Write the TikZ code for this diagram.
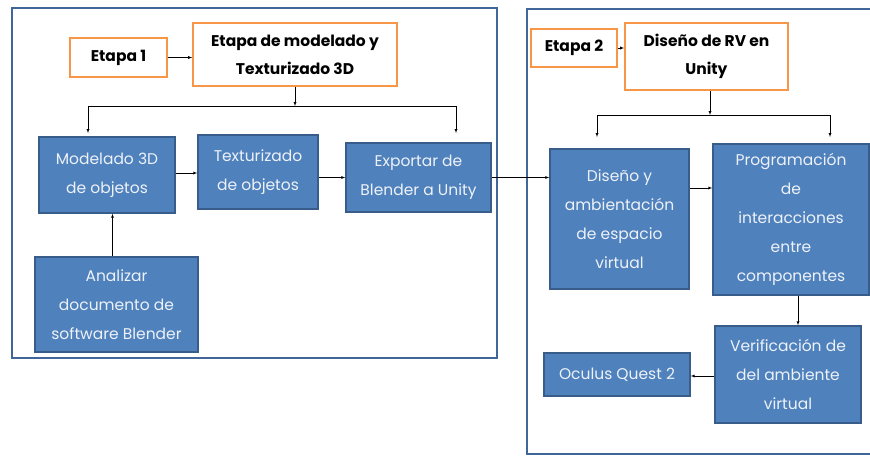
\documentclass[tikz,border=0pt]{standalone}
\usepackage{fontspec}
\setmainfont{Poppins}
\definecolor{panelblue}{HTML}{41669A}
\definecolor{boxblue}{HTML}{4F81BD}
\definecolor{boxedge}{HTML}{385D8A}
\definecolor{etapaorange}{HTML}{F79646}
\definecolor{boxtext}{HTML}{EEF2F8}
\tikzset{
  etapa/.style={draw=etapaorange, line width=1.6pt, fill=white, rectangle, align=center, inner sep=0pt,
    font=\fontsize{15.5}{28}\selectfont\bfseries},
  paso/.style={draw=boxedge, line width=1.4pt, fill=boxblue, rectangle, align=center, inner sep=0pt,
    text=boxtext, font=\fontsize{15.5}{29}\selectfont},
  panel/.style={draw=panelblue, line width=1.8pt}
}
\begin{document}
\begin{tikzpicture}[x=1pt, y=-1pt, >=latex, thin]
	\useasboundingbox (0,0) rectangle (870,460);
	% Panels
	\draw[panel] (12,8) rectangle (497,358);
	\draw[panel] (872,9) -- (527,9) -- (527,454) -- (872,454);
	% Etapa 1
	\node[etapa, minimum width=97pt, minimum height=39pt] (et1) at (118.5,57.5) {Etapa 1};
	\node[etapa, minimum width=204pt, minimum height=63pt] (etmod) at (295,54.5) {Etapa de modelado y\\Texturizado 3D};
	\node[paso, minimum width=136pt, minimum height=76pt] (mod) at (107,175) {Modelado 3D\\de objetos};
	\node[paso, minimum width=120pt, minimum height=74pt] (tex) at (258,172) {Texturizado\\de objetos};
	\node[paso, minimum width=145pt, minimum height=69pt] (exp) at (418.5,177.5) {Exportar de\\Blender a Unity};
	\node[paso, minimum width=163pt, minimum height=95pt] (ana) at (116.5,304.5) {Analizar\\documento de\\software Blender};
	% Etapa 2
	\node[etapa, minimum width=86pt, minimum height=38pt] (et2) at (574,48) {Etapa 2};
	\node[etapa, minimum width=163pt, minimum height=67pt] (dis) at (706.5,56.5) {Diseño de RV en\\Unity};
	\node[paso, minimum width=139pt, minimum height=140pt] (dya) at (619.5,219) {Diseño y\\ambientación\\de espacio\\virtual};
	\node[paso, minimum width=156pt, minimum height=151pt] (prog) at (791,219.5) {Programación\\de\\interacciones\\entre\\componentes};
	\node[paso, minimum width=146pt, minimum height=97pt] (ver) at (788,374.5) {Verificación de\\del ambiente\\virtual};
	\node[paso, minimum width=146pt, minimum height=43pt] (ocu) at (617,374.5) {Oculus Quest 2};
	% Branch points
	\coordinate (b1) at (etmod.south |- 0,106);
	\coordinate (l1) at (88,133);
	\coordinate (r1) at (456,133);
	\coordinate (b2) at (710,115);
	\coordinate (l2) at (597,137);
	\coordinate (r2) at (830,137);
	% Arrows stage 1
	\draw[->] (et1.east) -- (et1.east -| etmod.west);
	\draw[->] (etmod.south) -- (b1);
	\draw[->] (b1) -| (l1);
	\draw[->] (b1) -| (r1);
	\draw[->] ([yshift=2pt]mod.east) -- ([yshift=2pt]mod.east -| tex.west);
	\draw[->] (tex.east |- exp.west) -- (exp.west);
	\draw[->] ([xshift=-4pt]ana.north) -- ([xshift=-4pt]ana.north |- mod.south);
	\draw[->] (exp.east) -- (exp.east -| dya.west);
	% Arrows stage 2
	\draw[->] (et2.east) -- (et2.east -| dis.west);
	\draw[->] (b2 |- dis.south) -- (b2);
	\draw[->] (b2) -| (l2);
	\draw[->] (b2) -| (r2);
	\draw[->] ([yshift=31pt]dya.east) -- ([yshift=31pt]dya.east -| prog.west);
	\draw[->] ([xshift=7pt]prog.south) -- ([xshift=7pt]prog.south |- ver.north);
	\draw[->] ([yshift=-1.5pt]ver.west) -- ([yshift=-1.5pt]ver.west -| ocu.east);
\end{tikzpicture}
\end{document}
